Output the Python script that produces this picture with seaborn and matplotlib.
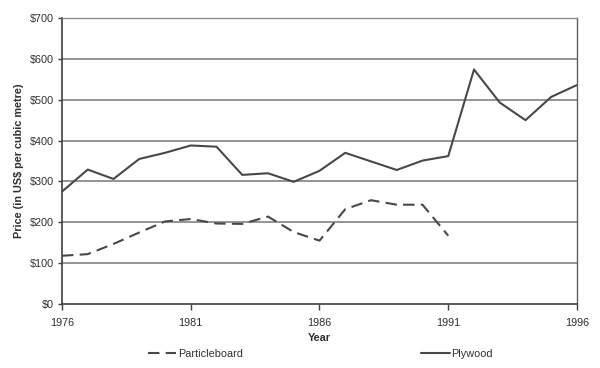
import pandas as pd
import matplotlib
matplotlib.use("Agg")
import matplotlib.pyplot as plt
import seaborn as sns
from matplotlib.ticker import FuncFormatter

# values
years_plywood = list(range(1976, 1997))
plywood = [275, 329, 306, 355, 370, 388, 385, 316, 320, 299, 326,
           370, 349, 328, 351, 362, 574, 493, 450, 507, 536]
years_particle = list(range(1976, 1992))
particleboard = [118, 122, 147, 175, 202, 208, 197, 196, 214, 176,
                 155, 232, 254, 243, 243, 167]
x_ticks = [1976, 1981, 1986, 1991, 1996]
y_ticks = [0, 100, 200, 300, 400, 500, 600, 700]

df = pd.concat([
    pd.DataFrame({"Year": years_particle, "Price": particleboard, "Product": "Particleboard"}),
    pd.DataFrame({"Year": years_plywood, "Price": plywood, "Product": "Plywood"}),
])

sns.set_style("white")
plt.rcParams["font.family"] = ["Liberation Sans", "DejaVu Sans"]
plt.rcParams["font.size"] = 7.8
txt = "#303030"
line_col = "#484848"

fig = plt.figure(figsize=(6.0, 3.68), dpi=100)
ax = fig.add_axes([0.1033, 0.174, 0.8584, 0.777])

for v in y_ticks[1:]:
    ax.axhline(v, color="#8c8c8c", lw=1.3, zorder=0)

sns.lineplot(data=df, x="Year", y="Price", hue="Product", style="Product",
             palette={"Particleboard": line_col, "Plywood": line_col},
             dashes={"Particleboard": (5.5, 3), "Plywood": ""},
             linewidth=1.5, ax=ax, legend=False)

ax.set_xlim(1976, 1996)
ax.set_ylim(0, 700)
ax.set_xticks(x_ticks)
ax.set_yticks(y_ticks)
ax.yaxis.set_major_formatter(FuncFormatter(lambda v, p: f"${int(v)}"))
ax.tick_params(axis="x", direction="out", length=4, width=1, color="#404040",
               labelcolor=txt, pad=6, bottom=True)
ax.tick_params(axis="y", direction="out", length=3, width=1, color="#404040",
               labelcolor=txt, pad=3, left=True)

for s in ["left", "bottom"]:
    ax.spines[s].set_color("#404040")
    ax.spines[s].set_linewidth(1.2)
ax.spines["right"].set_color("#606060")
ax.spines["right"].set_linewidth(1.0)
ax.spines["top"].set_color("#8c8c8c")
ax.spines["top"].set_linewidth(1.0)

ax.set_xlabel("Year", fontweight="bold", color=txt, labelpad=4)
ax.set_ylabel("Price (in US$ per cubic metre)", fontweight="bold", color=txt, labelpad=4)

h1, = plt.plot([], [], color=line_col, lw=1.5, dashes=(5.5, 3))
h2, = plt.plot([], [], color=line_col, lw=1.5)
fig.legend([h1, h2], ["Particleboard", "Plywood"], ncol=2, loc="center",
           bbox_to_anchor=(0.534, 0.038), frameon=False, handlelength=2.6,
           handletextpad=0.15, columnspacing=16.5, labelcolor=txt)

fig.savefig("out.png", dpi=100)
